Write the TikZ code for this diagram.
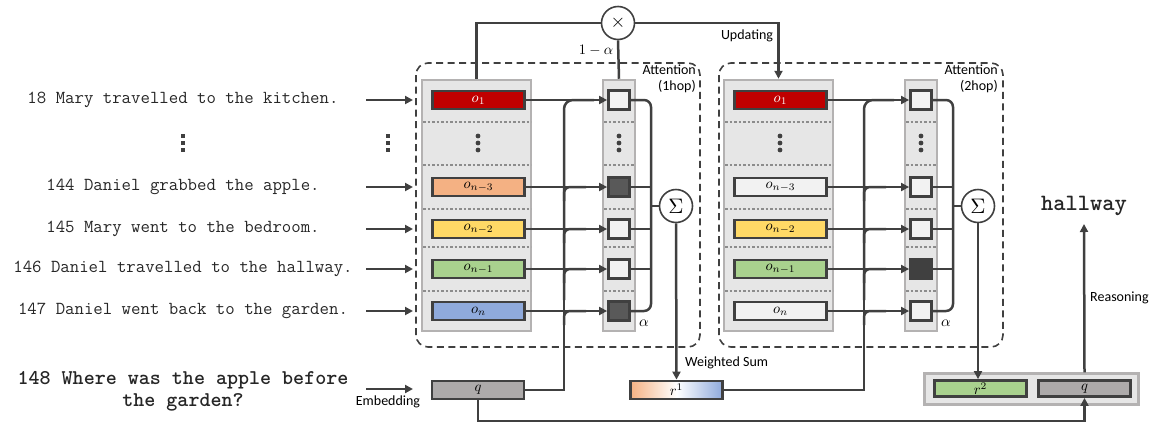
\documentclass[tikz,border=0pt]{standalone}
\usepackage{fontspec}
\setsansfont{Carlito}
\usetikzlibrary{arrows.meta}
\definecolor{dk}{HTML}{404040}
\definecolor{colb}{HTML}{B4B2B2}
\definecolor{colf}{HTML}{E6E6E6}
\definecolor{sepc}{HTML}{8C8C8C}
\definecolor{cRed}{HTML}{C00000}
\definecolor{cOr}{HTML}{F4B183}
\definecolor{cYe}{HTML}{FFD966}
\definecolor{cGr}{HTML}{A9D18E}
\definecolor{cBl}{HTML}{8FAADC}
\definecolor{cLt}{HTML}{F2F2F2}
\definecolor{cMd}{HTML}{595959}
\definecolor{cQ}{HTML}{ADAAAA}
\definecolor{txt}{HTML}{262626}
% bar fills per hop/row
\colorlet{bar1a}{cRed}\colorlet{bar1b}{cOr}\colorlet{bar1c}{cYe}\colorlet{bar1d}{cGr}\colorlet{bar1e}{cBl}
\colorlet{bar2a}{cRed}\colorlet{bar2b}{cLt}\colorlet{bar2c}{cYe}\colorlet{bar2d}{cGr}\colorlet{bar2e}{cLt}
\colorlet{tx1a}{white}\colorlet{tx1b}{black}\colorlet{tx1c}{black}\colorlet{tx1d}{black}\colorlet{tx1e}{black}
\colorlet{tx2a}{white}\colorlet{tx2b}{black}\colorlet{tx2c}{black}\colorlet{tx2d}{black}\colorlet{tx2e}{black}
\colorlet{sq1a}{cLt}\colorlet{sq1b}{cMd}\colorlet{sq1c}{cLt}\colorlet{sq1d}{cLt}\colorlet{sq1e}{cMd}
\colorlet{sq2a}{cLt}\colorlet{sq2b}{cLt}\colorlet{sq2c}{cLt}\colorlet{sq2d}{dk}\colorlet{sq2e}{cLt}
\newcommand{\mbig}[1]{\scalebox{1.45}{$#1$}}
\begin{document}
\begin{tikzpicture}[x=1pt,y=-1pt,
  line/.style={draw=dk, line width=2.5pt},
  arr/.style={line, -{Triangle[length=8pt,width=8pt]}},
  col/.style={draw=colb, fill=colf, line width=2.5pt, inner sep=0pt},
  bar/.style={draw=dk, line width=2.8pt, minimum width=92pt, minimum height=18pt, inner sep=0pt},
  sqbox/.style={draw=dk, line width=2.8pt, minimum width=21pt, minimum height=19pt, inner sep=0pt},
  sepline/.style={draw=sepc, line width=2pt, dash pattern=on 2.5pt off 2pt},
  dashbox/.style={draw=dk, line width=1.6pt, dash pattern=on 7pt off 4.5pt, rounded corners=12pt},
  lbl/.style={font=\sffamily\fontsize{14}{16}\selectfont, text=black, inner sep=1pt},
  sent/.style={font=\ttfamily\fontsize{18.3}{20}\selectfont, text=txt},
  op/.style={circle, draw=dk, line width=1.6pt, fill=white, inner sep=0pt, minimum size=33pt},
]
\useasboundingbox (0,0) rectangle (1157,432);

% dashed attention boxes
\draw[dashbox] (416,63) rectangle (700,347);
\draw[dashbox] (719,63) rectangle (1003,347);

% left sentences
\node[sent] (t18) at (183,100) {18 Mary travelled to the kitchen.};
\node[sent] (t144) at (183,187) {144 Daniel grabbed the apple.};
\node[sent] (t145) at (183,229) {145 Mary went to the bedroom.};
\node[sent] (t146) at (183,269) {146 Daniel travelled to the hallway.};
\node[sent] (t147) at (183,311) {147 Daniel went back to the garden.};
\node[font=\ttfamily\bfseries\fontsize{21}{22}\selectfont, text=txt, align=center] (tq) at (183,391) {148 Where was the apple before\\the garden?};
\foreach \y in {136,143,150} {
  \fill[dk] (183,\y) +(-2.2,-2.2) rectangle +(2.2,2.2);
  \fill[dk] (388,\y) +(-2.2,-2.2) rectangle +(2.2,2.2);
}
\foreach \y in {100,187,229,269,311} {
  \draw[arr] (366,\y) -- (413,\y);
}
\draw[arr] (366,389) -- (413,389);
\node[lbl, anchor=north] (emb) at (388,395) {Embedding};

% hops
\foreach \h/\dx/\qx in {1/0/564, 2/302/864} {
  \node[col, minimum width=109pt, minimum height=251pt] (c\h m) at (476.5+\dx,205.5) {};
  \node[col, minimum width=32pt, minimum height=251pt] (c\h a) at (619+\dx,205.5) {};
  \foreach \s in {122,165,209,247,291} {
    \draw[sepline] (423+\dx,\s) -- (531+\dx,\s);
    \draw[sepline] (604+\dx,\s) -- (635+\dx,\s);
  }
  \foreach \y in {136,143,150} {
    \fill[dk] (478+\dx,\y) circle (2.4pt);
    \fill[dk] (619+\dx,\y) circle (2.4pt);
  }
  \foreach \r/\y/\lab in {a/100/{o_1}, b/187/{o_{n-3}}, c/229/{o_{n-2}}, d/269/{o_{n-1}}, e/311/{o_n}} {
    \node[bar, fill=bar\h\r, text=tx\h\r] (m\h\r) at (478.5+\dx,\y) {\mbig{\lab}};
    \node[sqbox, fill=sq\h\r] (s\h\r) at (619+\dx,\y) {};
    \draw[arr] (m\h\r.east) -- (s\h\r.west);
  }
  % q feed branches
  \foreach \y in {187,229,269,311} {
    \draw[line, rounded corners=6pt] (\qx,\y+14) -- (\qx,\y) -- (\qx+22,\y);
  }
  \draw[line, rounded corners=9pt] (\qx,300) -- (\qx,100) -- (\qx+30,100);
  % sum connectors
  \draw[line, rounded corners=7pt] (s\h a.east) -- (651+\dx,100) -- (651+\dx,311) -- (s\h e.east);
  \foreach \r/\y in {b/187,c/229,d/269} {
    \draw[line] (s\h\r.east) -- (651+\dx,\y);
  }
  \node[op] (sum\h) at (676+\dx,206) {\scalebox{2.1}{$\Sigma$}};
  \draw[line] (651+\dx,206) -- (sum\h.west);
  \node[inner sep=0pt] (al\h) at (644+\dx,323) {\scalebox{1.5}{$\alpha$}};
}

\node[lbl, align=right, anchor=north east] (att1) at (697,64) {Attention\\(1hop)};
\node[lbl, align=right, anchor=north east] (att2) at (999,64) {Attention\\(2hop)};

% multiply / updating
\node[op] (times) at (618,23) {\scalebox{1.9}{$\times$}};
\draw[line] (c1m.north) |- (times.west);
\draw[line] (times.south) -- (c1a.north);
\draw[arr] (times.east) -| (c2m.north);
\node (oma) at (596,50) {\mbig{1-\alpha}};
\node[lbl] (upd) at (747,36) {Updating};

% query and r1
\node[bar, fill=cQ] (q1) at (478,390) {\mbig{q}};
\node[bar, left color=cOr, right color=cBl, middle color=white, shading angle=90] (r1) at (676.5,390) {\mbig{r^1}};
\coordinate (qj1) at (564,390);
\draw[line] (q1.east) -- (qj1) -- (564,300);
\coordinate (qj2) at (864,390);
\draw[line] (r1.east) -- (qj2) -- (864,300);
\draw[arr] (sum1.south) -- (r1.north);
\node[lbl, anchor=west] (ws) at (684,363) {Weighted Sum};

% output
\node[draw=colb, fill=colf, line width=2.5pt, minimum width=214pt, minimum height=31pt, inner sep=0pt] (cont) at (1031.5,389) {};
\node[bar, fill=cGr, minimum height=16pt] (r2) at (980.5,388.5) {\mbig{r^2}};
\node[bar, fill=cQ, minimum height=16pt] (q2) at (1084.5,388.5) {\mbig{q}};
\draw[arr] (sum2.south) -- (sum2.south |- r2.north);
\coordinate (qb) at (481,421);
\draw[arr] (q1.south) |- (qb) -| (q2.south);
\node[font=\ttfamily\bfseries\fontsize{23.4}{24}\selectfont, text=txt] (ans) at (1084,206) {hallway};
\draw[arr] (cont.north -| q2) -- (1084,224);
\node[lbl, anchor=west] (rea) at (1089,298) {Reasoning};
\end{tikzpicture}
\end{document}
